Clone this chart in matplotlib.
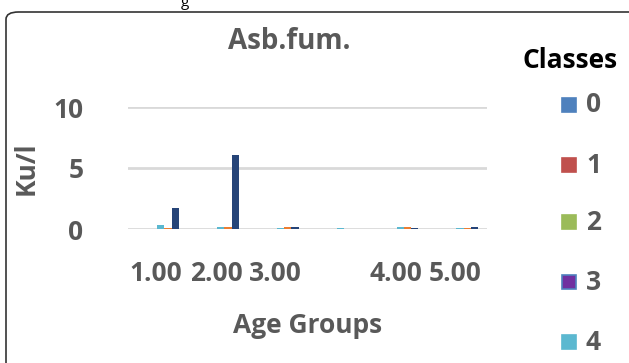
import numpy as np
import matplotlib
matplotlib.use('Agg')
from matplotlib import pyplot as plt
from matplotlib.patches import FancyBboxPatch, Rectangle

plt.rcParams['font.family'] = ['Open Sans', 'DejaVu Sans']

groups   = ['1.00', '2.00', '3.00', '', '4.00', '5.00']
classes  = ['0', '1', '2', '3', '4', '5', '6']
colors   = ['#4F81BD', '#C0504D', '#9BBB59', '#7030A0', '#5BB8D0', '#ED7D31', '#264478']
# values per class, one per age group
vals = {
    '0': [0, 0, 0, 0, 0, 0],
    '1': [0, 0, 0, 0, 0, 0],
    '2': [0, 0, 0, 0, 0, 0],
    '3': [0, 0, 0, 0, 0, 0],
    '4': [0.35, 0.15, 0.05, 0.05, 0.15, 0.05],
    '5': [0.05, 0.15, 0.2, 0.0, 0.15, 0.05],
    '6': [1.7, 6.1, 0.15, 0.0, 0.05, 0.15],
}
legend_classes = ['0', '1', '2', '3', '4']

grey = '#595959'
fs = 19
fig = plt.figure(figsize=(6.29, 3.63), dpi=100)
fig.patches.append(FancyBboxPatch((6/629, -0.1), 1.2, (363-12)/363+0.1,
                                  boxstyle='round,pad=0,rounding_size=0.02',
                                  transform=fig.transFigure, fill=False,
                                  edgecolor='#333333', linewidth=1.2))
fig.text(185/629, 1-3/363, 'g', fontsize=11, ha='center', va='center', color='black')

ax = fig.add_axes([128/629, 1-229/363, (487-128)/629, (229-107)/363])
x = np.arange(len(groups))
w = 0.12
shown = ['4', '5', '6']
for i, c in enumerate(shown):
    ci = classes.index(c)
    ax.bar(x + (i-1)*w + 0.17, vals[c], w, color=colors[ci], zorder=3)
ax.set_ylim(0, 10)
ax.set_xlim(-0.5, len(groups)-0.5)
ax.set_yticks([0, 5, 10])
for yv in [0, 5, 10]:
    ax.axhline(yv, color='#D9D9D9', linewidth=2, zorder=1)
ax.set_yticklabels(['0', '5', '10'], fontsize=fs, fontweight='bold', color=grey)
ax.set_xticks(x - 0.03)
ax.set_xticklabels(groups, fontsize=fs, fontweight='bold', color=grey)
ax.tick_params(length=0, pad=32)
ax.tick_params(axis='x', pad=22)
for s in ax.spines.values():
    s.set_visible(False)
ax.set_ylabel('Ku/l', fontsize=fs, fontweight='bold', color=grey, labelpad=10)
ax.set_xlabel('Age Groups', fontsize=fs, fontweight='bold', color=grey, labelpad=18)
ax.set_title('Asb.fum.', fontsize=20, fontweight='bold', color=grey, pad=42, x=0.45)

fig.text(570/629, 1-60/363, 'Classes', fontsize=fs, fontweight='bold', ha='center', va='center')
ys = [105, 165, 222, 282, 342]
for c, yp in zip(legend_classes, ys):
    ci = classes.index(c)
    ec = '#4F81BD' if c == '3' else colors[ci]
    fig.patches.append(Rectangle((562/629, 1-(yp+7)/363), 14/629, 14/363,
                                 transform=fig.transFigure, facecolor=colors[ci],
                                 edgecolor=ec, linewidth=1.2))
    fig.text(586/629, 1-yp/363, c, fontsize=fs, fontweight='bold', color=grey,
             ha='left', va='center')

fig.savefig('out.png', dpi=100)
